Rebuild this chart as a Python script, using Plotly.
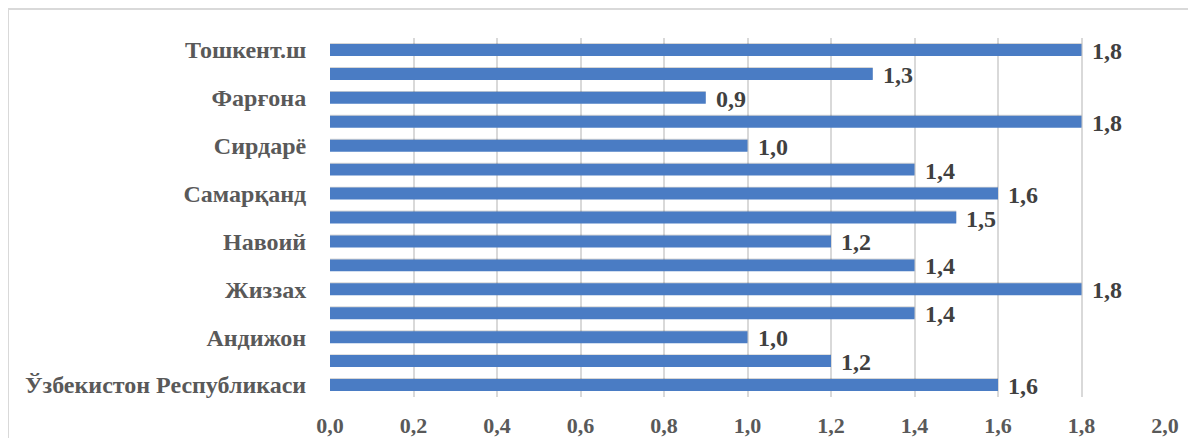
import plotly.graph_objects as go

categories = [
    "Ўзбекистон Республикаси",
    "Қорақалпоғистон Р.",
    "Андижон",
    "Бухоро",
    "Жиззах",
    "Қашқадарё",
    "Навоий",
    "Наманган",
    "Самарқанд",
    "Сурхондарё",
    "Сирдарё",
    "Тошкент",
    "Фарғона",
    "Хоразм",
    "Тошкент.ш",
]
values = [1.6, 1.2, 1.0, 1.4, 1.8, 1.4, 1.2, 1.5, 1.6, 1.4, 1.0, 1.8, 0.9, 1.3, 1.8]
shown_labels = categories[::2]
x_ticks = [0.0, 0.2, 0.4, 0.6, 0.8, 1.0, 1.2, 1.4, 1.6, 1.8, 2.0]

def fmt(v):
    return f"{v:.1f}".replace(".", ",")

FONT = "Times New Roman"

fig = go.Figure()
# soft shadow under bars
fig.add_trace(go.Bar(
    y=categories, x=values, orientation="h",
    marker=dict(color="rgba(0,0,0,0.16)", line=dict(width=0)),
    width=0.5, offset=-0.21, hoverinfo="skip", showlegend=False,
))
fig.add_trace(go.Bar(
    y=categories, x=values, orientation="h",
    marker=dict(color="#4a7cc4", line=dict(width=0)),
    width=0.5, offset=-0.25, showlegend=False,
))

annotations = []
for c, v in zip(categories, values):
    annotations.append(dict(
        x=v, y=c, xref="x", yref="y", text="<b>" + fmt(v) + "</b>", showarrow=False,
        xanchor="left", xshift=8, yshift=-1,
        font=dict(family=FONT, size=24, color="#404040"),
    ))

fig.update_layout(
    width=1180, height=430,
    margin=dict(l=322, r=23, t=30, b=41, autoexpand=False),
    paper_bgcolor="white", plot_bgcolor="white",
    barmode="overlay",
    annotations=annotations,
    font=dict(family=FONT),
    xaxis=dict(
        range=[0, 2.0], tickvals=x_ticks, ticktext=["<b>" + fmt(t) + "</b>" for t in x_ticks],
        showgrid=True, gridcolor="#d9d9d9", gridwidth=1.5,
        zeroline=False, showline=False, automargin=False,
        ticks="outside", ticklen=9, tickcolor="rgba(0,0,0,0)",
        tickfont=dict(family=FONT, size=22, color="#595959"),
        fixedrange=True,
    ),
    yaxis=dict(
        type="category", categoryorder="array", categoryarray=categories,
        tickvals=shown_labels, ticktext=["<b>" + s + "</b>" for s in shown_labels],
        showgrid=False, zeroline=False, showline=False, automargin=False,
        ticks="outside", ticklen=18, tickcolor="rgba(0,0,0,0)",
        tickfont=dict(family=FONT, size=24, color="#595959"),
        range=[-0.5, 14.5], fixedrange=True,
    ),
    shapes=[dict(
        type="rect", xref="paper", yref="paper",
        x0=(8 - 330) / 835, x1=(1205 - 330) / 835,
        y0=(397 - 455) / 359, y1=1 + (38 - 9) / 359,
        line=dict(color="#d9d9d9", width=2), fillcolor="rgba(0,0,0,0)", layer="below",
    )],
)

fig.write_html("out.html")
